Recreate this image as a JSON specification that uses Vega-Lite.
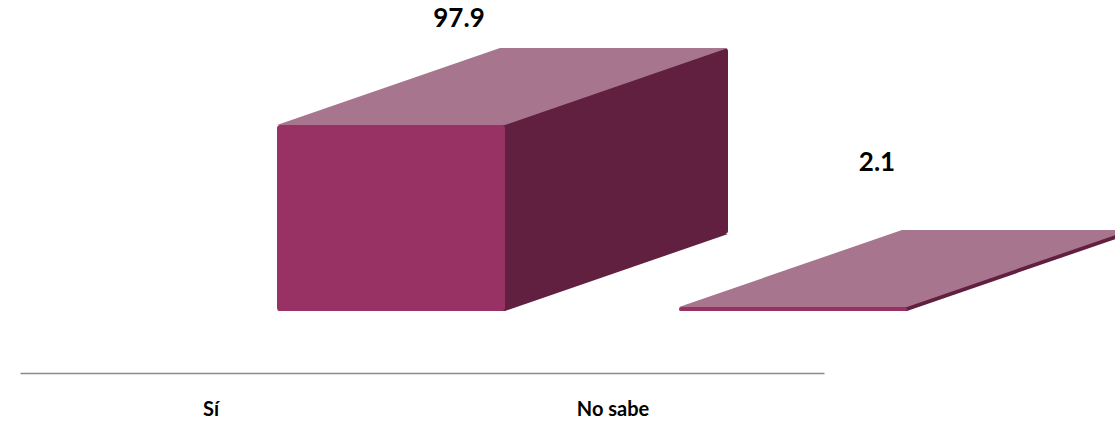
{
  "$schema": "https://vega.github.io/schema/vega-lite/v6.json",
  "width": 804,
  "height": 190,
  "autosize": {"type": "none"},
  "padding": {"left": 20, "top": 121, "right": 291, "bottom": 115},
  "background": "white",
  "config": {"view": {"stroke": null}, "font": "Lato"},
  "data": {"values": [
    {"respuesta": "Sí", "porcentaje": 97.9},
    {"respuesta": "No sabe", "porcentaje": 2.1}
  ]},
  "resolve": {"scale": {"x": "independent", "y": "independent"}},
  "layer": [
    {
      "encoding": {
        "x": {
          "field": "respuesta", "type": "nominal", "sort": null,
          "scale": {"type": "band", "paddingInner": 0, "paddingOuter": 0},
          "axis": {
            "title": null, "labelAngle": 0, "ticks": false, "grid": false,
            "domainColor": "#8c8c8c", "domainWidth": 1.5, "offset": 62,
            "labelFont": "Lato", "labelFontWeight": "bold", "labelFontSize": 20,
            "labelColor": "black", "labelPadding": 26, "labelOffset": -10
          }
        }
      },
      "layer": [
        {
          "mark": {"type": "point", "shape": "M-114,0L114,0L337,-77L109,-77Z", "size": 4, "filled": true, "opacity": 1, "color": "#622041", "strokeWidth": 0, "xOffset": 170},
          "encoding": {"y": {"datum": 0, "type": "quantitative", "scale": {"domain": [0, 100], "nice": false}, "axis": null}}
        },
        {
          "mark": {"type": "bar", "width": 228, "color": "#622041", "xOffset": 393, "yOffset": -77, "y2Offset": -77, "cornerRadius": 3},
          "encoding": {
            "y": {"field": "porcentaje", "type": "quantitative", "stack": null, "scale": {"domain": [0, 100], "nice": false}, "axis": null},
            "y2": {"datum": 0}
          }
        },
        {
          "mark": {"type": "point", "shape": "M-114,0L114,0L337,-77L109,-77Z", "size": 4, "filled": true, "opacity": 1, "color": "#A7768E", "strokeWidth": 0, "xOffset": 170},
          "encoding": {"y": {"field": "porcentaje", "type": "quantitative", "scale": {"domain": [0, 100], "nice": false}, "axis": null}}
        },
        {
          "mark": {"type": "bar", "width": 228, "color": "#983264", "xOffset": 170, "cornerRadius": 3},
          "encoding": {"y": {"field": "porcentaje", "type": "quantitative", "scale": {"domain": [0, 100], "nice": false}, "axis": null}}
        }
      ]
    },
    {
      "mark": {"type": "text", "font": "Lato", "fontWeight": "bold", "fontSize": 26, "baseline": "middle", "align": "center", "dx": 246, "color": "black"},
      "encoding": {
        "x": {"field": "respuesta", "type": "nominal", "sort": null, "scale": {"type": "point", "padding": 0.4617}, "axis": null},
        "y": {"field": "porcentaje", "type": "quantitative", "scale": {"domain": [-96.37, 30.03], "nice": false, "zero": false}, "axis": null},
        "text": {"field": "porcentaje", "type": "quantitative", "format": ".1f"}
      }
    }
  ]
}
